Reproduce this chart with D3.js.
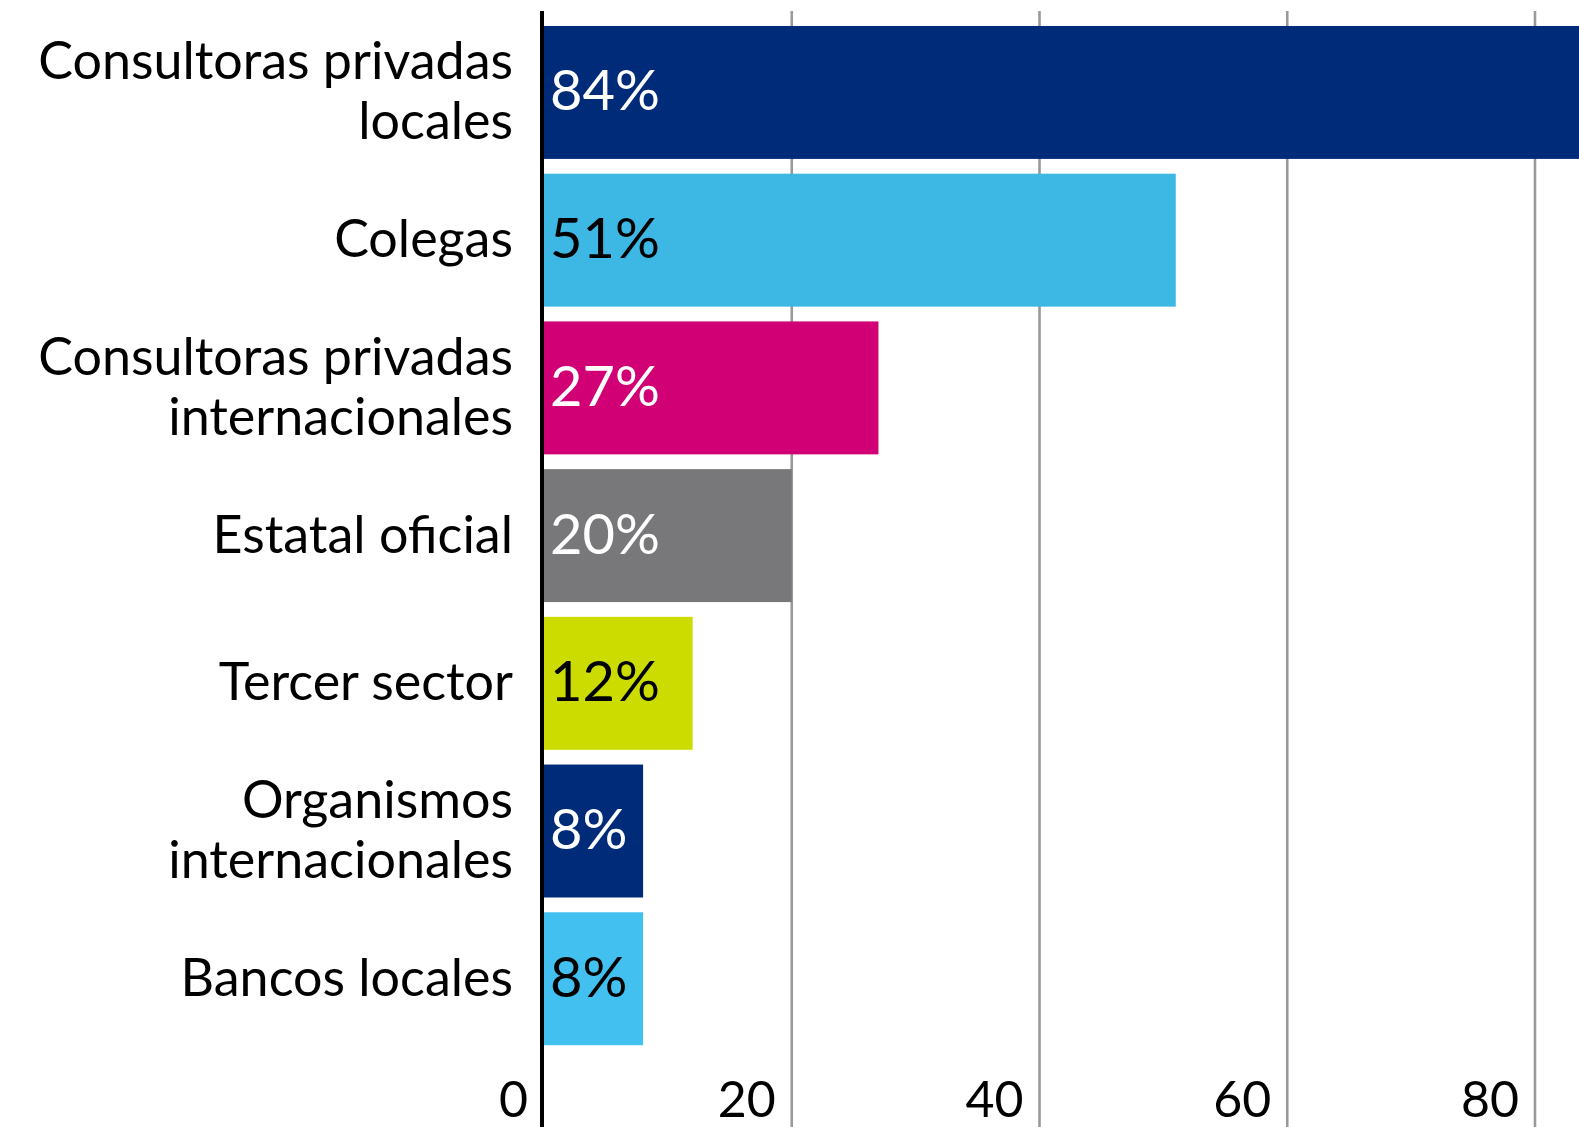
<!DOCTYPE html>
<html>
<head>
<meta charset="utf-8">
<script src="https://cdn.jsdelivr.net/npm/d3@7"></script>
<style>
  html, body { margin: 0; padding: 0; background: #fff; }
  svg { display: block; }
  text { font-family: Lato, "Noto Sans", sans-serif; }
</style>
</head>
<body>
<div class="chart"></div>
<script>
var categories = [
  'Consultoras privadas\nlocales',
  'Colegas',
  'Consultoras privadas\ninternacionales',
  'Estatal oficial',
  'Tercer sector',
  'Organismos\ninternacionales',
  'Bancos locales'
]
var values = [84, 51, 27, 20, 12, 8, 8]
var ticks = [0, 20, 40, 60, 80]

var barColors = ['#002B79', '#3DB8E4', '#D10074', '#78787B', '#CDDC00', '#002B79', '#42C0EF']
var labelColors = ['#fff', '#000', '#fff', '#fff', '#000', '#fff', '#000']

var width = 1579
var height = 1127

var svg = d3.select('.chart')
  .append('svg')
  .attr('width', width)
  .attr('height', height)

var x = d3.scaleLinear()
  .domain([0, 80])
  .range([544, 1535])

var y = d3.scaleBand()
  .domain(categories)
  .range([18.6, 1052.6])
  .paddingInner(0.1)
  .paddingOuter(0.05)

// grid lines
svg.selectAll('.grid')
  .data(ticks.slice(1))
  .enter()
  .append('line')
  .attr('class', 'grid')
  .attr('x1', function (d) { return x(d) })
  .attr('x2', function (d) { return x(d) })
  .attr('y1', 11)
  .attr('y2', height)
  .attr('stroke', '#999')
  .attr('stroke-width', 2.6)

// bars
svg.selectAll('.bar')
  .data(values)
  .enter()
  .append('rect')
  .attr('class', 'bar')
  .attr('x', x(0))
  .attr('y', function (d, i) { return y(categories[i]) })
  .attr('width', function (d) { return x(d) - x(0) })
  .attr('height', y.bandwidth())
  .attr('fill', function (d, i) { return barColors[i] })

// axis line
svg.append('line')
  .attr('x1', x(0) - 2)
  .attr('x2', x(0) - 2)
  .attr('y1', 11)
  .attr('y2', height)
  .attr('stroke', '#000')
  .attr('stroke-width', 4)

// value labels
svg.selectAll('.value')
  .data(values)
  .enter()
  .append('text')
  .attr('class', 'value')
  .attr('x', x(0) + 6)
  .attr('y', function (d, i) { return y(categories[i]) + y.bandwidth() / 2 + 18 })
  .attr('fill', function (d, i) { return labelColors[i] })
  .style('font-size', '56px')
  .text(function (d) { return d + '%' })

// category labels
var cat = svg.selectAll('.cat')
  .data(categories)
  .enter()
  .append('text')
  .attr('class', 'cat')
  .attr('text-anchor', 'end')
  .style('font-size', '52px')
  .attr('fill', '#000')

cat.each(function (d) {
  var lines = d.split('\n')
  var mid = y(d) + y.bandwidth() / 2
  var lh = 60
  var first = mid + 17 - (lines.length - 1) * lh / 2
  d3.select(this).selectAll('tspan')
    .data(lines)
    .enter()
    .append('tspan')
    .attr('x', 513)
    .attr('y', function (l, j) { return first + j * lh })
    .text(function (l) { return l })
})

// tick labels
svg.selectAll('.tick-label')
  .data(ticks)
  .enter()
  .append('text')
  .attr('class', 'tick-label')
  .attr('text-anchor', 'end')
  .attr('x', function (d) { return x(d) - 16 })
  .attr('y', 1117)
  .style('font-size', '50px')
  .attr('fill', '#000')
  .text(function (d) { return d })
</script>
</body>
</html>
